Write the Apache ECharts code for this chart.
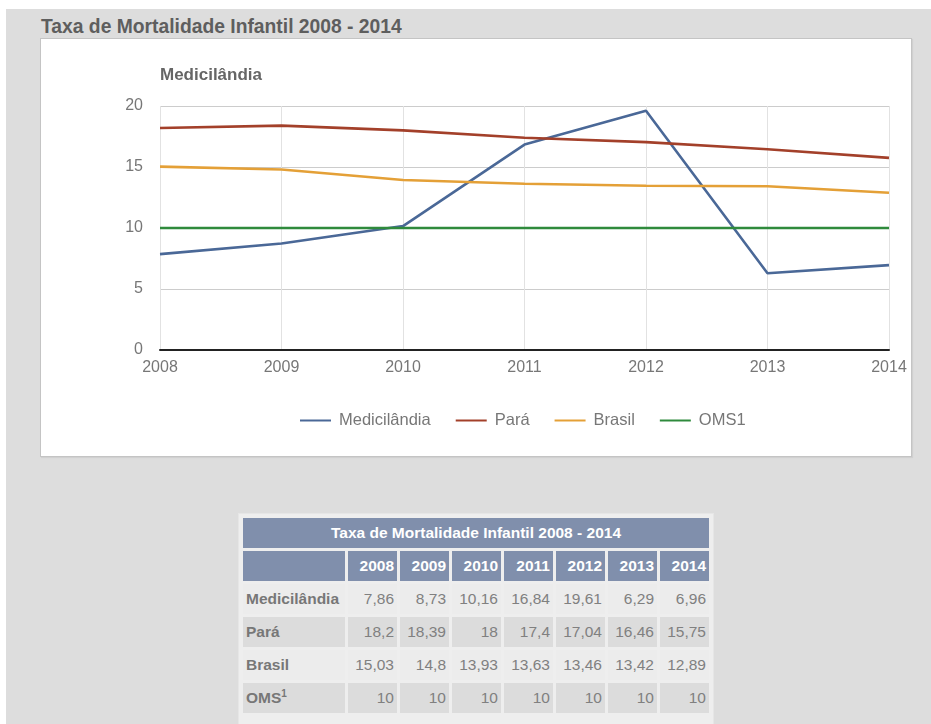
<!DOCTYPE html>
<html>
<head>
<meta charset="utf-8">
<script src="https://cdn.jsdelivr.net/npm/echarts@6/dist/echarts.min.js"></script>
<style>
  html, body { margin: 0; padding: 0; width: 931px; height: 724px; overflow: hidden; background: #ffffff; font-family: "Liberation Sans", Arial, sans-serif; }
  #page { position: absolute; left: 6px; top: 9px; right: 0; bottom: 0; background: #dddddd; }
  #heading { position: absolute; left: 41px; top: 16px; font-size: 19.3px; font-weight: bold; color: #5e5e5e; white-space: nowrap; }
  #chart { position: absolute; left: 40px; top: 38px; width: 870px; height: 417px; background: #ffffff; border: 1px solid #c4c4c4; box-shadow: 1px 1px 1px rgba(0,0,0,0.06); }
  #tableBox { position: absolute; left: 238px; top: 513px; width: 474px; height: 230px; background: #eeeeee; border: 1px solid #e6e6e6; }
  table { border-collapse: separate; border-spacing: 3px; margin: 1px 0 0 1px; font-size: 15.5px; }
  td, th { height: 30px; padding: 0 3px; }
  th { background: #808fac; color: #ffffff; font-weight: bold; text-align: right; }
  th.caption { text-align: center; }
  td { color: #808080; text-align: right; }
  td.label { text-align: left; font-weight: bold; color: #777777; }
  tr.light td { background: #ececec; }
  tr.dark td { background: #dcdcdc; }
  sup { font-size: 10px; }
</style>
</head>
<body>
<div id="page"></div>
<div id="heading">Taxa de Mortalidade Infantil 2008 - 2014</div>
<div id="chart"></div>
<div id="tableBox"><table id="tbl"></table></div>
<script>
// Infant mortality rate per 1000 live births, 2008 - 2014
const years = ['2008', '2009', '2010', '2011', '2012', '2013', '2014'];
const medicilandia = [7.86, 8.73, 10.16, 16.84, 19.61, 6.29, 6.96];
const para = [18.2, 18.39, 18, 17.4, 17.04, 16.46, 15.75];
const brasil = [15.03, 14.8, 13.93, 13.63, 13.46, 13.42, 12.89];
const oms = [10, 10, 10, 10, 10, 10, 10];
const seriesNames = ['Medicilândia', 'Pará', 'Brasil', 'OMS1'];
const yTicks = [0, 5, 10, 15, 20];

const colors = ['#4a6897', '#a3402a', '#e4a037', '#2f8a3c'];
const chart = echarts.init(document.getElementById('chart'), null, { renderer: 'canvas' });

const lineSeries = [medicilandia, para, brasil, oms].map((data, i) => ({
  name: seriesNames[i],
  type: 'line',
  data: data,
  symbol: 'none',
  smooth: false,
  lineStyle: { width: 2.6, color: colors[i] },
  itemStyle: { color: colors[i] },
  z: 3
}));

chart.setOption({
  animation: false,
  color: colors,
  title: {
    text: 'Medicilândia',
    left: 114,
    top: 23,
    textStyle: { fontFamily: 'Liberation Sans', fontSize: 17, fontWeight: 'bold', color: '#666666' }
  },
  legend: {
    data: seriesNames,
    bottom: 22,
    left: 254,
    icon: 'rect',
    itemWidth: 31,
    itemHeight: 2,
    itemGap: 25,
    textStyle: { fontFamily: 'Liberation Sans', fontSize: 16.5, color: '#777777', padding: [0, 0, 0, 3] }
  },
  grid: { left: 119, right: 22, top: 67, bottom: 106, containLabel: false },
  xAxis: {
    type: 'category',
    data: years,
    boundaryGap: false,
    axisLine: { show: true, onZero: true, lineStyle: { color: '#222222', width: 2 } },
    axisTick: { show: false },
    axisLabel: { color: '#777777', fontFamily: 'Liberation Sans', fontSize: 16, margin: 10, showMinLabel: true, showMaxLabel: true },
    splitLine: { show: true, lineStyle: { color: '#e2e2e2', width: 1 } }
  },
  yAxis: {
    type: 'value',
    min: yTicks[0],
    max: yTicks[yTicks.length - 1],
    interval: 5,
    axisLine: { show: false },
    axisTick: { show: false },
    axisLabel: { color: '#777777', fontFamily: 'Liberation Sans', fontSize: 16, margin: 17 },
    splitLine: { show: true, lineStyle: { color: '#cccccc', width: 1 } }
  },
  series: lineSeries
});

// Companion data table
const fmt = v => String(v).replace('.', ',');
const rows = [
  { label: 'Medicilândia', values: medicilandia, cls: 'light' },
  { label: 'Pará', values: para, cls: 'dark' },
  { label: 'Brasil', values: brasil, cls: 'light' },
  { label: 'OMS<sup>1</sup>', values: oms, cls: 'dark' }
];
let html = '<tr><th class="caption" colspan="8">Taxa de Mortalidade Infantil 2008 - 2014</th></tr>';
html += '<tr><th style="width:96px"></th>' + years.map(y => '<th style="width:43px">' + y + '</th>').join('') + '</tr>';
rows.forEach(r => {
  html += '<tr class="' + r.cls + '"><td class="label">' + r.label + '</td>' +
    r.values.map(v => '<td>' + fmt(v) + '</td>').join('') + '</tr>';
});
document.getElementById('tbl').innerHTML = html;
</script>
</body>
</html>
